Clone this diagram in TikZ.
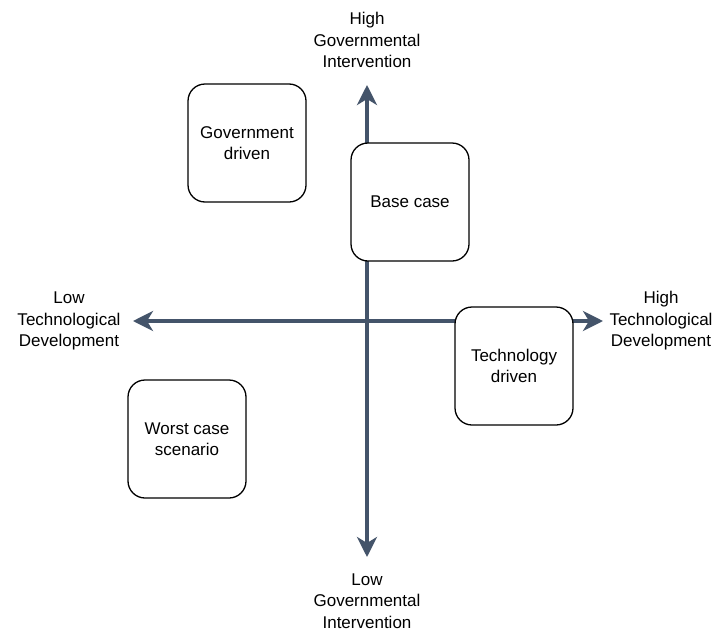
\documentclass[tikz,border=0pt]{standalone}
\usepackage{fontspec}
\setmainfont{Liberation Sans}
\usetikzlibrary{arrows.meta}
\definecolor{axiscol}{RGB}{68,84,106}
\begin{document}
\begin{tikzpicture}[x=1pt,y=-1pt,
  axis/.style={draw=axiscol,line width=4pt,{Stealth[length=20pt,width=20pt,inset=6pt]}-{Stealth[length=20pt,width=20pt,inset=6pt]}},
  box/.style={draw=black,fill=white,line width=1.3pt,rounded corners=17pt,minimum width=118pt,minimum height=118pt,inner sep=0pt,align=center,font=\fontsize{17}{21.5}\selectfont},
  lbl/.style={align=center,inner sep=0pt,font=\fontsize{17}{21.5}\selectfont}]
\useasboundingbox (0,0) rectangle (717,632);
\fill[white] (0,0) rectangle (717,632);
\coordinate (vtop) at (367,85);
\coordinate (vbot) at (367,557);
\coordinate (hleft) at (133,321);
\coordinate (hright) at (603,321);
\draw[axis] (vtop) -- (vbot);
\draw[axis] (hleft) -- (hright);
\node[box] (gov) at (247,143) {Government\\driven};
\node[box] (base) at (410,202) {Base case};
\node[box] (tech) at (514,366) {Technology\\driven};
\node[box] (worst) at (187,439) {Worst case\\scenario};
\node[lbl] (hgi) at (367,40) {High\\Governmental\\Intervention};
\node[lbl] (lgi) at (367,601) {Low\\Governmental\\Intervention};
\node[lbl] (ltd) at (69,321) {Low\\Technological\\Development};
\node[lbl] (htd) at (661,321) {High\\Technological\\Development};
\end{tikzpicture}
\end{document}
